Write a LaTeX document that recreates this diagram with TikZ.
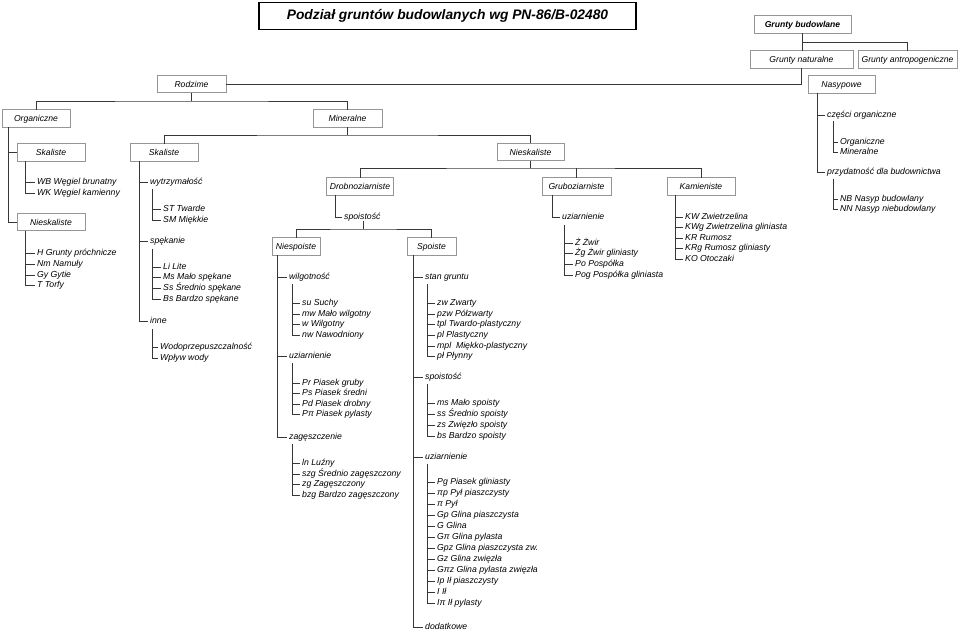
\documentclass[tikz,border=0pt]{standalone}
\usepackage{fontspec}
\setmainfont{Liberation Sans}
\definecolor{bxc}{RGB}{150,150,150}
\definecolor{lnc}{RGB}{55,55,55}
\tikzset{
 ln/.style={draw=lnc, line width=0.8pt, line cap=rect},
 bx/.style={draw=bxc, line width=0.7pt, fill=white, inner sep=0pt, minimum height=17.5pt, text height=7.5pt, text depth=1pt, font=\fontsize{8.6}{10}\selectfont\itshape},
 itm/.style={anchor=west, inner sep=0pt, text height=6pt, text depth=1.5pt, font=\fontsize{8.7}{10}\selectfont\itshape},
}
\newcommand\tkitem[5]{\node[itm] (#1) at (#3,#4) {#5}; \draw[ln] (#1.west -| #2,0) -- ([xshift=-2.5pt]#1.west);}
\newcommand\tkspine[3]{\draw[ln] (#1,0 |- #2) -- (#1,0 |- #3.west);}
\begin{document}
\begin{tikzpicture}[x=1pt,y=-1pt]
\useasboundingbox (0,0) rectangle (959,631);
% title
\node[draw=black, line width=1.1pt, minimum width=377pt, minimum height=27pt, inner sep=0pt, text height=10pt, text depth=2pt, font=\fontsize{13.8}{16}\selectfont\bfseries\itshape] (title) at (447.5,16) {Podział gruntów budowlanych wg PN-86/B-02480};
% boxes
\node[bx, minimum width=97pt, font=\fontsize{8.6}{10}\selectfont\bfseries\itshape] (gb) at (802.5,24.5) {Grunty budowlane};
\node[bx, minimum width=103pt] (gn) at (801.5,59.5) {Grunty naturalne};
\node[bx, minimum width=99pt] (ga) at (907.5,59.5) {Grunty antropogeniczne};
\node[bx, minimum width=69pt] (rod) at (191.5,84) {Rodzime};
\node[bx, minimum width=67pt] (nas) at (841.5,84.5) {Nasypowe};
\node[bx, minimum width=68pt] (org) at (36,118.5) {Organiczne};
\node[bx, minimum width=69pt] (min) at (347.5,118.5) {Mineralne};
\node[bx, minimum width=68pt] (osk) at (51,152.5) {Skaliste};
\node[bx, minimum width=68pt] (msk) at (164,152.5) {Skaliste};
\node[bx, minimum width=67pt] (mni) at (530.5,152) {Nieskaliste};
\node[bx, minimum width=68pt] (oni) at (51,222) {Nieskaliste};
\node[bx, minimum width=67pt] (dro) at (360,186.5) {Drobnoziarniste};
\node[bx, minimum width=69pt] (gru) at (576.5,186.5) {Gruboziarniste};
\node[bx, minimum width=68pt] (kam) at (701,186.5) {Kamieniste};
\node[bx, minimum width=48pt] (nsp) at (296,246.5) {Niespoiste};
\node[bx, minimum width=49pt] (spo) at (431.5,246.5) {Spoiste};
% top connectors
\draw[ln] (gb.south) -- (gb.south |- gn.north);
\draw[ln] (gb.south |- 0,42) -| (ga.north);
\draw[ln] (gn.south) |- (rod.east);
\coordinate (rb) at (191.5,101);
\draw[ln] (rod.south) -- (rb);
\draw[ln] (org.north) |- (rb) -| (min.north);
\coordinate (mb) at (347.5,135);
\draw[ln] (min.south) -- (mb);
\draw[ln] (msk.north) |- (mb) -| (mni.north);
\coordinate (nb) at (530.5,168);
\draw[ln] (mni.south) -- (nb);
\draw[ln] (dro.north) |- (nb) -| (kam.north);
\draw[ln] (gru.north) -- (gru.north |- nb);
% Organiczne
\draw[ln] (8,0 |- org.south) |- (oni.west);
\draw[ln] (osk.west -| 8,0) -- (osk.west);
\tkitem{wb}{25}{37}{182}{WB Węgiel brunatny}
\tkitem{wk}{25}{37}{193}{WK Węgiel kamienny}
\tkspine{25}{osk.south}{wk}
\tkitem{h}{25}{37}{253}{H Grunty próchnicze}
\tkitem{nm}{25}{37}{264}{Nm Namuły}
\tkitem{gy}{25}{37}{275}{Gy Gytie}
\tkitem{t}{25}{37}{285}{T Torfy}
\tkspine{25}{oni.south}{t}
% Mineralne Skaliste
\tkitem{wy}{139}{150}{182}{wytrzymałość}
\tkitem{sp}{139}{150}{241}{spękanie}
\tkitem{in}{139}{150}{321}{inne}
\tkspine{139}{msk.south}{in}
\tkitem{st}{152}{163}{209}{ST Twarde}
\tkitem{sm}{152}{163}{220}{SM Miękkie}
\tkspine{152}{0,189}{sm}
\tkitem{li}{152}{163}{267}{Li Lite}
\tkitem{ms}{152}{163}{277}{Ms Mało spękane}
\tkitem{ss}{152}{163}{288}{Ss Średnio spękane}
\tkitem{bs}{152}{163}{299}{Bs Bardzo spękane}
\tkspine{152}{0,249}{bs}
\tkitem{wo}{152}{160}{347}{Wodoprzepuszczalność}
\tkitem{wp}{152}{160}{358}{Wpływ wody}
\tkspine{152}{0,329}{wp}
% Drobnoziarniste
\tkitem{dsp}{335}{344}{217}{spoistość}
\tkspine{335}{dro.south}{dsp}
\coordinate (sb) at (363,229);
\draw[ln] (363,0 |- dsp.south) -- (sb);
\draw[ln] (nsp.north) |- (sb) -| (spo.north);
% Niespoiste
\tkitem{wi}{277}{289}{277}{wilgotność}
\tkitem{nu}{277}{289}{356}{uziarnienie}
\tkitem{za}{277}{289}{437}{zagęszczenie}
\tkspine{277}{nsp.south}{za}
\tkitem{su}{292}{302}{303}{su Suchy}
\tkitem{mw}{292}{302}{314}{mw Mało wilgotny}
\tkitem{w}{292}{302}{324}{w Wilgotny}
\tkitem{nw}{292}{302}{335}{nw Nawodniony}
\tkspine{292}{0,284}{nw}
\tkitem{pr}{292}{302}{383}{Pr Piasek gruby}
\tkitem{ps}{292}{302}{393}{Ps Piasek średni}
\tkitem{pd}{292}{302}{404}{Pd Piasek drobny}
\tkitem{ppi}{292}{302}{414}{Pπ Piasek pylasty}
\tkspine{292}{0,363}{ppi}
\tkitem{ln}{292}{302}{463}{ln Luźny}
\tkitem{szg}{292}{302}{474}{szg Średnio zagęszczony}
\tkitem{zg}{292}{302}{484}{zg Zagęszczony}
\tkitem{bzg}{292}{302}{495}{bzg Bardzo zagęszczony}
\tkspine{292}{0,444}{bzg}
% Spoiste
\tkitem{sg}{413}{425}{277}{stan gruntu}
\tkitem{sps}{413}{425}{377}{spoistość}
\tkitem{suz}{413}{425}{457}{uziarnienie}
\tkitem{dod}{413}{425}{627}{dodatkowe}
\tkspine{413}{spo.south}{dod}
\tkitem{zw}{427}{437}{303}{zw Zwarty}
\tkitem{pzw}{427}{437}{314}{pzw Półzwarty}
\tkitem{tpl}{427}{437}{324}{tpl Twardo-plastyczny}
\tkitem{pl}{427}{437}{335}{pl Plastyczny}
\tkitem{mpl}{427}{437}{346}{mpl \ Miękko-plastyczny}
\tkitem{pln}{427}{437}{356}{pł Płynny}
\tkspine{427}{0,284}{pln}
\tkitem{msp}{427}{437}{403}{ms Mało spoisty}
\tkitem{ssp}{427}{437}{414}{ss Średnio spoisty}
\tkitem{zsp}{427}{437}{425}{zs Zwięzło spoisty}
\tkitem{bsp}{427}{437}{436}{bs Bardzo spoisty}
\tkspine{427}{0,384}{bsp}
\tkitem{pg}{427}{437}{482}{Pg Piasek gliniasty}
\tkitem{pip}{427}{437}{493}{πp Pył piaszczysty}
\tkitem{pi}{427}{437}{504}{π Pył}
\tkitem{gp}{427}{437}{515}{Gp Glina piaszczysta}
\tkitem{g}{427}{437}{526}{G Glina}
\tkitem{gpi}{427}{437}{537}{Gπ Glina pylasta}
\tkitem{gpz}{427}{437}{548}{Gpz Glina piaszczysta zw.}
\tkitem{gz}{427}{437}{559}{Gz Glina zwięzła}
\tkitem{gpiz}{427}{437}{570}{Gπz Glina pylasta zwięzła}
\tkitem{ip}{427}{437}{581}{Ip Ił piaszczysty}
\tkitem{i}{427}{437}{592}{I Ił}
\tkitem{ipi}{427}{437}{603}{Iπ Ił pylasty}
\tkspine{427}{0,464}{ipi}
% Gruboziarniste
\tkitem{guz}{552}{562}{217}{uziarnienie}
\tkspine{552}{gru.south}{guz}
\tkitem{zz}{564}{575}{243}{Ż Żwir}
\tkitem{zgl}{564}{575}{253}{Żg Żwir gliniasty}
\tkitem{po}{564}{575}{264}{Po Pospółka}
\tkitem{pog}{564}{575}{275}{Pog Pospółka gliniasta}
\tkspine{564}{0,225}{pog}
% Kamieniste
\tkitem{kw}{675}{685}{217}{KW Zwietrzelina}
\tkitem{kwg}{675}{685}{227}{KWg Zwietrzelina gliniasta}
\tkitem{kr}{675}{685}{238}{KR Rumosz}
\tkitem{krg}{675}{685}{248}{KRg Rumosz gliniasty}
\tkitem{ko}{675}{685}{259}{KO Otoczaki}
\tkspine{675}{kam.south}{ko}
% Nasypowe
\tkitem{czo}{817}{827}{115}{części organiczne}
\tkitem{prz}{817}{827}{172}{przydatność dla budownictwa}
\tkspine{817}{nas.south}{prz}
\tkitem{norg}{833}{840}{142}{Organiczne}
\tkitem{nmin}{833}{840}{152}{Mineralne}
\tkspine{833}{0,121}{nmin}
\tkitem{nbu}{833}{840}{199}{NB Nasyp budowlany}
\tkitem{nnb}{833}{840}{209}{NN Nasyp niebudowlany}
\tkspine{833}{0,179}{nnb}
\end{tikzpicture}
\end{document}
